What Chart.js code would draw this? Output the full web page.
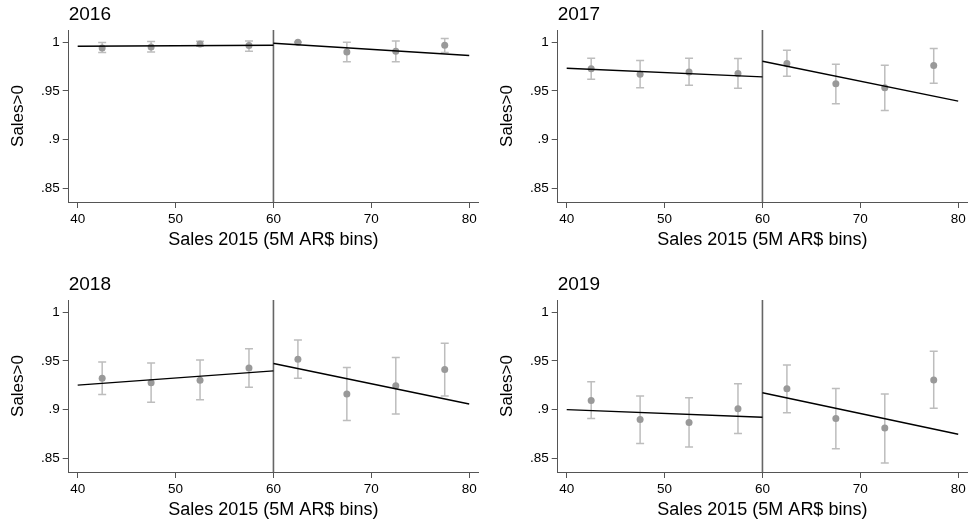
<!DOCTYPE html>
<html><head><meta charset="utf-8">
<script src="https://cdn.jsdelivr.net/npm/chart.js@4/dist/chart.umd.min.js"></script>
<style>
html,body{margin:0;padding:0;background:#fff;overflow:hidden;width:969px;height:525px;position:relative;}
canvas{position:absolute;}
</style></head><body>
<canvas id="c0" width="479" height="252" style="left:0px;top:0px"></canvas>
<canvas id="c1" width="479" height="252" style="left:489px;top:0px"></canvas>
<canvas id="c2" width="479" height="252" style="left:0px;top:269.7px"></canvas>
<canvas id="c3" width="479" height="252" style="left:489px;top:269.7px"></canvas>
<script>
// ---- data ----
const years = ['2016', '2017', '2018', '2019'];
const bins = [42.5, 47.5, 52.5, 57.5, 62.5, 67.5, 72.5, 77.5];
const xTicks = [40, 50, 60, 70, 80];
const yTicks = [0.85, 0.9, 0.95, 1];
const cutoff = 60;
const fitLeftX = [40, 60];
const fitRightX = [60, 80];

const mean2016 = [0.9942, 0.9952, 0.9983, 0.9966, 1.0000, 0.9900, 0.9908, 0.9969];
const lo2016   = [0.9894, 0.9900, 0.9959, 0.9908, 0.9998, 0.9800, 0.9800, 0.9894];
const hi2016   = [0.9997, 1.0007, 1.0010, 1.0014, 1.0002, 1.0000, 1.0014, 1.0038];
const fitL2016 = [0.9959, 0.9969];
const fitR2016 = [0.9990, 0.9863];

const mean2017 = [0.9726, 0.9671, 0.9695, 0.9678, 0.9781, 0.9572, 0.9531, 0.9760];
const lo2017   = [0.9620, 0.9531, 0.9558, 0.9527, 0.9651, 0.9366, 0.9298, 0.9579];
const hi2017   = [0.9836, 0.9812, 0.9836, 0.9832, 0.9918, 0.9774, 0.9764, 0.9935];
const fitL2017 = [0.9733, 0.9644];
const fitR2017 = [0.9805, 0.9394];

const mean2018 = [0.9322, 0.9274, 0.9301, 0.9427, 0.9516, 0.9158, 0.9243, 0.9410];
const lo2018   = [0.9154, 0.9073, 0.9100, 0.9229, 0.9322, 0.8885, 0.8953, 0.9137];
const hi2018   = [0.9489, 0.9478, 0.9509, 0.9625, 0.9714, 0.9431, 0.9533, 0.9680];
const fitL2018 = [0.9250, 0.9397];
const fitR2018 = [0.9472, 0.9056];

const mean2019 = [0.9093, 0.8895, 0.8865, 0.9008, 0.9212, 0.8906, 0.8810, 0.9304];
const lo2019   = [0.8906, 0.8650, 0.8612, 0.8752, 0.8967, 0.8595, 0.8449, 0.9011];
const hi2019   = [0.9284, 0.9137, 0.9120, 0.9264, 0.9458, 0.9216, 0.9158, 0.9598];
const fitL2019 = [0.8998, 0.8919];
const fitR2019 = [0.9171, 0.8745];

const panels = [
  {year: years[0], mean: mean2016, lo: lo2016, hi: hi2016, fitL: fitL2016, fitR: fitR2016},
  {year: years[1], mean: mean2017, lo: lo2017, hi: hi2017, fitL: fitL2017, fitR: fitR2017},
  {year: years[2], mean: mean2018, lo: lo2018, hi: hi2018, fitL: fitL2018, fitR: fitR2018},
  {year: years[3], mean: mean2019, lo: lo2019, hi: hi2019, fitL: fitL2019, fitR: fitR2019}
];

const yMin = 0.8356, yMax = 1.0126;
const xMin = 39.08, xMax = 80.9;
const FONT = '"Liberation Sans", Arial, Helvetica, sans-serif';

const errorBars = {
  id: 'errorBars',
  beforeDatasetsDraw(chart) {
    const o = chart.options.plugins.errorBars;
    if (!o || !o.lo) return;
    const {ctx, scales: {x, y}} = chart;
    ctx.save();
    ctx.strokeStyle = '#bdbdbd';
    ctx.lineWidth = 1.5;
    o.x.forEach((xv, i) => {
      const px = x.getPixelForValue(xv);
      const pl = y.getPixelForValue(o.lo[i]);
      const ph = y.getPixelForValue(o.hi[i]);
      ctx.beginPath();
      ctx.moveTo(px, pl); ctx.lineTo(px, ph);
      ctx.moveTo(px - 4, pl); ctx.lineTo(px + 4, pl);
      ctx.moveTo(px - 4, ph); ctx.lineTo(px + 4, ph);
      ctx.stroke();
    });
    ctx.restore();
  }
};

const fmt = v => (v === 1 ? '1' : String(+v.toFixed(2)).replace(/^0/, ''));

panels.forEach((p, k) => {
  new Chart(document.getElementById('c' + k), {
    type: 'scatter',
    data: {
      datasets: [
        {data: fitLeftX.map((xv, i) => ({x: xv, y: p.fitL[i]})), showLine: true, borderColor: '#000', borderWidth: 1.4, pointRadius: 0, order: 0},
        {data: fitRightX.map((xv, i) => ({x: xv, y: p.fitR[i]})), showLine: true, borderColor: '#000', borderWidth: 1.4, pointRadius: 0, order: 0},
        {data: bins.map((b, i) => ({x: b, y: p.mean[i]})), pointRadius: 3.5, backgroundColor: '#999', borderWidth: 0, order: 1},
        {data: [{x: cutoff, y: yMin}, {x: cutoff, y: yMax}], showLine: true, borderColor: '#666', borderWidth: 1.6, pointRadius: 0, order: 2}
      ]
    },
    options: {
      responsive: false,
      animation: false,
      devicePixelRatio: 1,
      layout: {autoPadding: false, padding: {left: 0, right: 1, top: 0, bottom: 0}},
      plugins: {
        legend: {display: false},
        tooltip: {enabled: false},
        title: {display: true, text: p.year, align: 'start', fullSize: false, color: '#000',
                font: {family: FONT, size: 19, weight: 'normal'}, padding: {top: 3.6, bottom: 3.6}},
        errorBars: {x: bins, lo: p.lo, hi: p.hi}
      },
      scales: {
        x: {
          type: 'linear', min: xMin, max: xMax,
          afterBuildTicks: s => { s.ticks = xTicks.map(v => ({value: v})); },
          afterFit: s => { s.height = 50; s.paddingLeft = 0; s.paddingRight = 0; },
          ticks: {color: '#000', font: {family: FONT, size: 13.5}, padding: 3, maxRotation: 0},
          grid: {display: true, drawOnChartArea: false, drawTicks: true, tickLength: 6, color: '#555'},
          border: {display: true, color: '#555', width: 1},
          title: {display: true, text: 'Sales 2015 (5M AR$ bins)', color: '#000',
                  font: {family: FONT, size: 18}, padding: {top: 0, bottom: 1.5}}
        },
        y: {
          type: 'linear', min: yMin, max: yMax,
          afterBuildTicks: s => { s.ticks = yTicks.map(v => ({value: v})); },
          afterFit: s => { s.width = 68.7; s.paddingTop = 0; s.paddingBottom = 0; },
          ticks: {color: '#000', font: {family: FONT, size: 13.5}, padding: 3, callback: v => fmt(v)},
          grid: {display: true, drawOnChartArea: false, drawTicks: true, tickLength: 6, color: '#555'},
          border: {display: true, color: '#555', width: 1},
          title: {display: true, text: 'Sales>0', color: '#000',
                  font: {family: FONT, size: 17}, padding: {top: 7.8, bottom: 0}}
        }
      }
    },
    plugins: [errorBars]
  });
});
</script>
</body></html>
